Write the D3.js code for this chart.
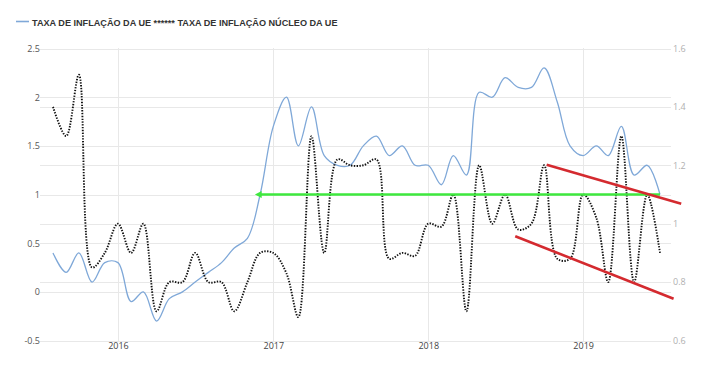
<!DOCTYPE html>
<html><head><meta charset="utf-8">
<script src="https://cdn.jsdelivr.net/npm/d3@7"></script>
<style>body{margin:0;background:#fff;} svg{display:block;}</style>
</head><body>
<svg id="chart" width="706" height="380"></svg>
<script>
// ---- data ----
const months = ["2015-08","2015-09","2015-10","2015-11","2015-12",
 "2016-01","2016-02","2016-03","2016-04","2016-05","2016-06","2016-07","2016-08","2016-09","2016-10","2016-11","2016-12",
 "2017-01","2017-02","2017-03","2017-04","2017-05","2017-06","2017-07","2017-08","2017-09","2017-10","2017-11","2017-12",
 "2018-01","2018-02","2018-03","2018-04","2018-05","2018-06","2018-07","2018-08","2018-09","2018-10","2018-11","2018-12",
 "2019-01","2019-02","2019-03","2019-04","2019-05","2019-06","2019-07"];
// EU inflation rate (left axis)
const inflation = [0.4,0.2,0.4,0.1,0.3,
 0.3,-0.1,0.0,-0.3,-0.07,0.0,0.1,0.2,0.3,0.45,0.55,1.0,
 1.7,2.0,1.5,1.9,1.4,1.3,1.3,1.5,1.6,1.4,1.5,1.3,
 1.3,1.1,1.4,1.2,2.05,2.0,2.2,2.1,2.1,2.3,1.95,1.5,
 1.4,1.5,1.4,1.7,1.2,1.3,1.0];
// EU core inflation rate (right axis)
const coreInflation = [1.4,1.3,1.51,0.85,0.9,
 1.0,0.9,1.0,0.7,0.8,0.8,0.9,0.8,0.8,0.7,0.8,0.9,
 0.9,0.83,0.68,1.3,0.9,1.22,1.2,1.2,1.22,0.88,0.9,0.89,
 1.0,0.99,1.1,0.7,1.2,1.0,1.1,0.98,1.0,1.2,0.88,0.88,
 1.1,1.02,0.8,1.3,0.8,1.1,0.9];
const leftTicks = [-0.5,0,0.5,1,1.5,2,2.5];
const rightTicks = [0.6,0.8,1.0,1.2,1.4,1.6];
const yearTicks = ["2016","2017","2018","2019"];
const legendText = "TAXA DE INFLAÇÃO DA UE ****** TAXA DE INFLAÇÃO NÚCLEO DA UE";
// annotations (date, right-axis value)
const greenArrow = [["2016-12-03",1.1],["2019-07-01",1.1]];
const redUpper = [["2018-10-07",1.202],["2019-08-20",1.068]];
const redLower = [["2018-07-25",0.957],["2019-08-02",0.743]];

// ---- chart ----
const parse = d3.timeParse("%Y-%m");
const parseD = d3.timeParse("%Y-%m-%d");
const dates = months.map(parse);
const svg = d3.select("#chart");
const x = d3.scaleTime().domain([parse("2015-08"), parse("2019-07")]).range([53, 660]);
const yL = d3.scaleLinear().domain([-0.5, 2.5]).range([340.5, 48.5]);
const yR = d3.scaleLinear().domain([0.6, 1.6]).range([340.5, 48.5]);
const gridX0 = 40, gridX1 = 671;

// grid lines
const g = svg.append("g");
g.selectAll(".gl").data(leftTicks).join("line")
  .attr("x1", gridX0).attr("x2", gridX1)
  .attr("y1", d => Math.round(yL(d)) + 0.5).attr("y2", d => Math.round(yL(d)) + 0.5)
  .attr("stroke", "#e8e8e8").attr("stroke-width", 1);
g.selectAll(".gr").data(rightTicks.filter(d => d > 0.6 && d < 1.6)).join("line")
  .attr("x1", gridX0).attr("x2", gridX1)
  .attr("y1", d => Math.round(yR(d)) + 0.5).attr("y2", d => Math.round(yR(d)) + 0.5)
  .attr("stroke", "#e8e8e8").attr("stroke-width", 1);
g.selectAll(".gv").data(yearTicks).join("line")
  .attr("x1", d => Math.round(x(parse(d + "-01"))) + 0.5).attr("x2", d => Math.round(x(parse(d + "-01"))) + 0.5)
  .attr("y1", 48).attr("y2", 341)
  .attr("stroke", "#e8e8e8").attr("stroke-width", 1);

// axes
const axL = d3.axisLeft(yL).tickValues(leftTicks).tickSize(0).tickPadding(0)
  .tickFormat(d => String(d));
const gl = svg.append("g").attr("transform", "translate(40,0)").call(axL);
gl.select(".domain").remove();
gl.selectAll("text").attr("font-family", "Open Sans, sans-serif").attr("font-size", 9).attr("fill", "#555");

const axR = d3.axisRight(yR).tickValues(rightTicks).tickSize(0).tickPadding(0)
  .tickFormat(d => String(d));
const gr = svg.append("g").attr("transform", "translate(673,0)").call(axR);
gr.select(".domain").remove();
gr.selectAll("text").attr("font-family", "Open Sans, sans-serif").attr("font-size", 9).attr("fill", "#b0b0b0");

const axB = d3.axisBottom(x).tickValues(yearTicks.map(d => parse(d + "-01"))).tickSize(0).tickPadding(0)
  .tickFormat(d3.timeFormat("%Y"));
const gb = svg.append("g").attr("transform", "translate(0,343)").call(axB);
gb.select(".domain").remove();
gb.selectAll("text").attr("font-family", "Open Sans, sans-serif").attr("font-size", 9).attr("fill", "#444");

// series
const lineL = d3.line().x((d, i) => x(dates[i])).y(d => yL(d)).curve(d3.curveCatmullRom.alpha(0.5));
const lineR = d3.line().x((d, i) => x(dates[i])).y(d => yR(d)).curve(d3.curveCatmullRom.alpha(0.5));
svg.append("path").datum(inflation).attr("d", lineL)
  .attr("fill", "none").attr("stroke", "#7fa8d8").attr("stroke-width", 1.3);
svg.append("path").datum(coreInflation).attr("d", lineR)
  .attr("fill", "none").attr("stroke", "#111").attr("stroke-width", 1.9).attr("stroke-dasharray", "1.4,1.4");

// annotations
const defs = svg.append("defs");
defs.append("marker").attr("id", "ah").attr("viewBox", "0 0 10 10").attr("refX", 1).attr("refY", 5)
  .attr("markerWidth", 3.4).attr("markerHeight", 2.6).attr("markerUnits", "strokeWidth").attr("orient", "auto-start-reverse")
  .append("path").attr("d", "M0,0 L10,5 L0,10 z").attr("fill", "#3ee83e");
const annLine = d3.line().x(d => x(parseD(d[0]))).y(d => yR(d[1]));
svg.append("path").datum(greenArrow).attr("d", annLine)
  .attr("stroke", "#3ee83e").attr("stroke-width", 2.6).attr("fill", "none")
  .attr("marker-start", "url(#ah)");
[redUpper, redLower].forEach(seg => {
  svg.append("path").datum(seg).attr("d", annLine)
    .attr("stroke", "#d42a2f").attr("stroke-width", 2.6).attr("fill", "none");
});

// legend
svg.append("line").attr("x1", 16).attr("x2", 29).attr("y1", 21.5).attr("y2", 21.5)
  .attr("stroke", "#7fa8d8").attr("stroke-width", 1.6);
const lt = svg.append("text").attr("x", 32).attr("y", 25.5).text(legendText)
  .attr("font-family", "Liberation Sans, Arial, sans-serif").attr("font-weight", "bold")
  .attr("font-size", 11).attr("fill", "#333");
const w = lt.node().getComputedTextLength();
lt.attr("font-size", 11 * 306 / w);
</script>
</body></html>
